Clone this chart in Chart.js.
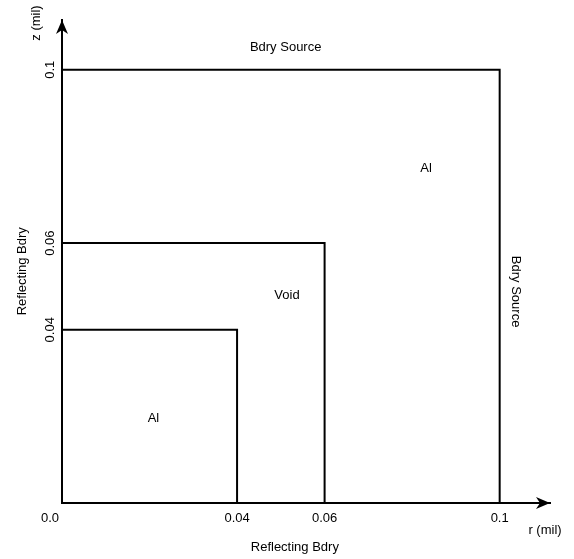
<!DOCTYPE html>
<html>
<head>
<meta charset="utf-8">
<script src="https://cdn.jsdelivr.net/npm/chart.js@4/dist/chart.umd.min.js"></script>
<style>
    html, body { margin: 0; padding: 0; background: #fff; }
    #wrap { width: 574px; height: 559px; }
</style>
</head>
<body>
<div id="wrap"><canvas id="chart"></canvas></div>
<script>
// --- Data ---
const tickValues = [0.0, 0.04, 0.06, 0.1];
const xTickLabels = ['0.0', '0.04', '0.06', '0.1'];
const yTickValues = [0.04, 0.06, 0.1];
const yTickLabels = ['0.04', '0.06', '0.1'];

// region boundaries (r, z in mil)
const innerR = [0, 0.04, 0.04];
const innerZ = [0.04, 0.04, 0];
const voidR = [0, 0.06, 0.06];
const voidZ = [0.06, 0.06, 0];
const outerR = [0, 0.1, 0.1];
const outerZ = [0.1, 0.1, 0];

// region names and where they sit
const regionNames = ['Al', 'Void', 'Al'];
const regionR = [0.0209, 0.0514, 0.0832];
const regionZ = [0.0195, 0.048, 0.0772];

const AXIS_MAX = 0.1115;
const FONT = '13px "Liberation Sans", Arial, sans-serif';

function toPoints(rs, zs) {
    return rs.map((r, i) => ({ x: r, y: zs[i] }));
}

function boundary(rs, zs) {
    return {
        data: toPoints(rs, zs),
        borderColor: '#000',
        borderWidth: 2,
        pointRadius: 0,
        tension: 0,
        fill: false,
    };
}

// --- Arrows and text ---
const annotate = {
    id: 'annotate',
    afterDraw(chart) {
        const ctx = chart.ctx;
        const xs = chart.scales.x;
        const ys = chart.scales.y;
        const area = chart.chartArea;
        const x0 = xs.getPixelForValue(0);
        const y0 = ys.getPixelForValue(0);

        ctx.save();
        ctx.fillStyle = '#000';

        // arrow heads
        ctx.beginPath();
        ctx.moveTo(area.right, y0);
        ctx.lineTo(area.right - 14, y0 - 6);
        ctx.lineTo(area.right - 10, y0);
        ctx.lineTo(area.right - 14, y0 + 6);
        ctx.closePath();
        ctx.fill();

        ctx.beginPath();
        ctx.moveTo(x0, area.top);
        ctx.lineTo(x0 - 6, area.top + 14);
        ctx.lineTo(x0, area.top + 10);
        ctx.lineTo(x0 + 6, area.top + 14);
        ctx.closePath();
        ctx.fill();

        ctx.font = FONT;
        ctx.textAlign = 'center';
        ctx.textBaseline = 'middle';

        // x tick labels
        tickValues.forEach((v, i) => {
            let px = xs.getPixelForValue(v);
            if (i === 0) px -= 12;
            ctx.fillText(xTickLabels[i], px, y0 + 15);
        });

        // y tick labels (rotated)
        yTickValues.forEach((v, i) => {
            const py = ys.getPixelForValue(v);
            ctx.save();
            ctx.translate(x0 - 12, py);
            ctx.rotate(-Math.PI / 2);
            ctx.fillText(yTickLabels[i], 0, 0);
            ctx.restore();
        });

        // region labels
        regionNames.forEach((name, i) => {
            ctx.fillText(name, xs.getPixelForValue(regionR[i]), ys.getPixelForValue(regionZ[i]));
        });

        // boundary / axis captions
        ctx.fillText('Bdry Source', xs.getPixelForValue(0.0511), ys.getPixelForValue(0.1052));
        ctx.fillText('Reflecting Bdry', xs.getPixelForValue(0.0532), y0 + 44);
        ctx.fillText('r (mil)', area.right - 5, y0 + 27);

        ctx.save();
        ctx.translate(xs.getPixelForValue(0.1037), ys.getPixelForValue(0.0488));
        ctx.rotate(Math.PI / 2);
        ctx.fillText('Bdry Source', 0, 0);
        ctx.restore();

        ctx.save();
        ctx.translate(x0 - 40, ys.getPixelForValue(0.0535));
        ctx.rotate(-Math.PI / 2);
        ctx.fillText('Reflecting Bdry', 0, 0);
        ctx.restore();

        ctx.save();
        ctx.translate(x0 - 26, area.top + 3);
        ctx.rotate(-Math.PI / 2);
        ctx.fillText('z (mil)', 0, 0);
        ctx.restore();

        ctx.restore();
    },
};

// --- Chart ---
const ctx = document.getElementById('chart').getContext('2d');
const chart = new Chart(ctx, {
    type: 'line',
    data: {
        datasets: [
            boundary(innerR, innerZ),
            boundary(voidR, voidZ),
            boundary(outerR, outerZ),
        ],
    },
    options: {
        responsive: true,
        maintainAspectRatio: false,
        animation: false,
        devicePixelRatio: 1,
        layout: { padding: { left: 62, right: 24, top: 20, bottom: 56 } },
        scales: {
            x: {
                type: 'linear',
                min: 0,
                max: AXIS_MAX,
                ticks: { display: false },
                grid: { display: false, drawTicks: false },
                border: { display: true, color: '#000', width: 2 },
            },
            y: {
                type: 'linear',
                min: 0,
                max: AXIS_MAX,
                ticks: { display: false },
                grid: { display: false, drawTicks: false },
                border: { display: true, color: '#000', width: 2 },
            },
        },
        plugins: {
            legend: { display: false },
            tooltip: { enabled: false },
        },
        elements: {
            line: { borderCapStyle: 'square', borderJoinStyle: 'miter' },
        },
    },
    plugins: [annotate],
});
</script>
</body>
</html>
